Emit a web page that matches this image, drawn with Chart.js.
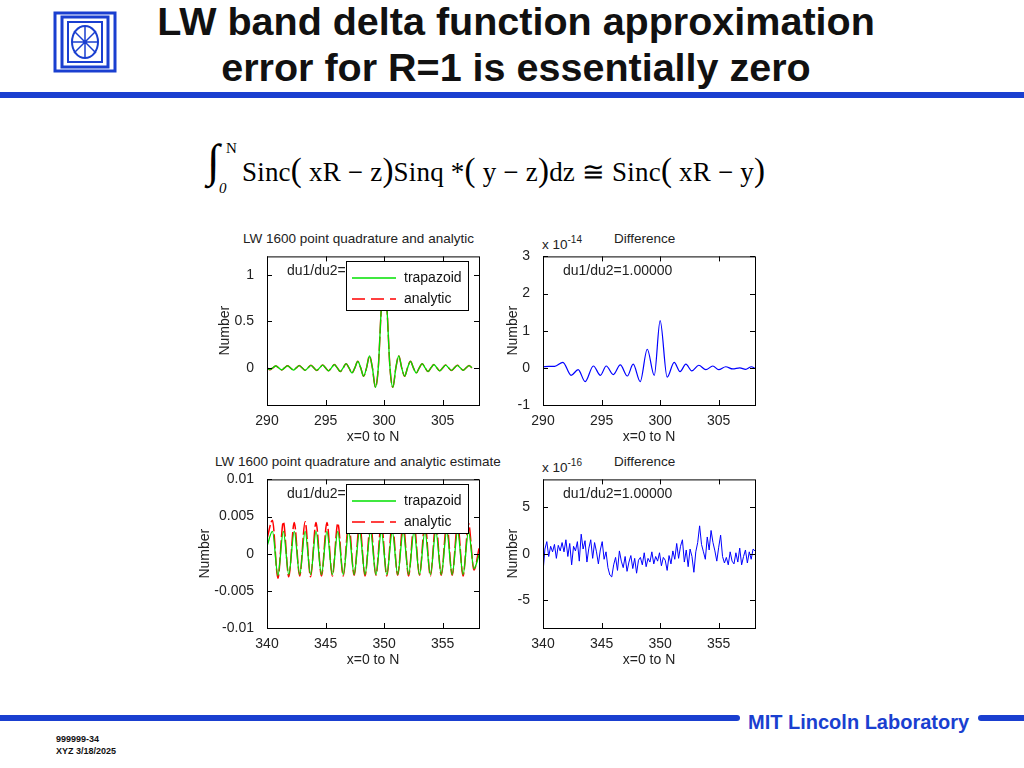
<!DOCTYPE html>
<html><head><meta charset="utf-8">
<script src="https://cdn.jsdelivr.net/npm/chart.js@4"></script>
<style>
body{margin:0;width:1024px;height:768px;background:#fff;position:relative;overflow:hidden;font-family:"Liberation Sans",Arial,sans-serif}
.a{position:absolute;white-space:nowrap}
canvas{position:absolute}
.t{font-size:13.5px;color:#222}
.leg{position:absolute;width:123px;height:50px;background:#fff;border:1px solid #000;box-sizing:border-box;font-size:14px;color:#111}
</style></head><body>
<div class="a" style="left:0;top:-2px;width:1032px;text-align:center;font-weight:bold;font-size:39.5px;line-height:46px;color:#111">LW band delta function approximation<br>error for R=1 is essentially zero</div>
<svg class="a" style="left:53px;top:11px" width="64" height="62" viewBox="0 0 64 62">
<rect x="2" y="2" width="60" height="58" fill="none" stroke="#1a3fd0" stroke-width="3"/>
<rect x="9" y="6" width="46" height="50" fill="none" stroke="#1a3fd0" stroke-width="3"/>
<rect x="15" y="11" width="34" height="40" fill="none" stroke="#1a3fd0" stroke-width="2"/>
<ellipse cx="32" cy="31" rx="13" ry="16" fill="none" stroke="#1a3fd0" stroke-width="2"/>
<path d="M21 20 L43 42 M43 20 L21 42 M32 15 L32 47 M19 31 L45 31" stroke="#1a3fd0" stroke-width="1.5"/>
</svg>
<div class="a" style="left:0;top:92px;width:1024px;height:6px;background:#1a3fd0"></div>
<div class="a" style="left:207px;top:131px;font-family:'Liberation Serif',serif;font-size:46px;line-height:60px">∫</div>
<div class="a" style="left:226px;top:140px;font-family:'Liberation Serif',serif;font-size:15px">N</div>
<div class="a" style="left:219px;top:180px;font-family:'Liberation Serif',serif;font-size:15px;font-style:italic">0</div>
<div class="a" style="left:242px;top:152px;font-family:'Liberation Serif',serif;font-size:27px;letter-spacing:0.2px">Sinc<span style="font-size:33px">(</span> xR − z<span style="font-size:33px">)</span>Sinq *<span style="font-size:33px">(</span> y − z<span style="font-size:33px">)</span>dz ≅ Sinc<span style="font-size:33px">(</span> xR − y<span style="font-size:33px">)</span></div>

<div class="a t" style="left:243px;top:231px">LW 1600 point quadrature and analytic</div>
<div class="a t" style="left:614px;top:231px">Difference</div>
<div class="a t" style="left:542px;top:234px">x 10<sup style="font-size:10px">-14</sup></div>
<div class="a t" style="left:215px;top:454px">LW 1600 point quadrature and analytic estimate</div>
<div class="a t" style="left:614px;top:454px">Difference</div>
<div class="a t" style="left:542px;top:457px">x 10<sup style="font-size:10px">-16</sup></div>

<canvas id="c1"></canvas><canvas id="c2"></canvas><canvas id="c3"></canvas><canvas id="c4"></canvas>

<div class="a t" style="left:287px;top:262px;font-size:14px">du1/du2=</div>
<div class="a t" style="left:563px;top:262px;font-size:14px">du1/du2=1.00000</div>
<div class="a t" style="left:287px;top:485px;font-size:14px">du1/du2=</div>
<div class="a t" style="left:563px;top:485px;font-size:14px">du1/du2=1.00000</div>
<div class="leg" style="left:346px;top:261px"><svg class="a" style="left:5px;top:0" width="46" height="48"><line x1="0" y1="16" x2="44" y2="16" stroke="#00e000" stroke-width="1.5"/><line x1="0" y1="37" x2="44" y2="37" stroke="#ff0000" stroke-width="1.5" stroke-dasharray="13,6"/></svg><div class="a" style="left:57px;top:7px">trapazoid</div><div class="a" style="left:57px;top:28px">analytic</div></div>
<div class="leg" style="left:346px;top:484px"><svg class="a" style="left:5px;top:0" width="46" height="48"><line x1="0" y1="16" x2="44" y2="16" stroke="#00e000" stroke-width="1.5"/><line x1="0" y1="37" x2="44" y2="37" stroke="#ff0000" stroke-width="1.5" stroke-dasharray="13,6"/></svg><div class="a" style="left:57px;top:7px">trapazoid</div><div class="a" style="left:57px;top:28px">analytic</div></div>

<div class="a" style="left:0;top:715px;width:740px;height:6px;background:#1a3fd0;border-radius:0 3px 3px 0"></div>
<div class="a" style="left:978px;top:715px;width:46px;height:6px;background:#1a3fd0;border-radius:3px 0 0 3px"></div>
<div class="a" style="left:748px;top:711px;font-weight:bold;font-size:20px;color:#1a3fd0">MIT Lincoln Laboratory</div>
<div class="a" style="left:56px;top:733px;font-weight:bold;font-size:9px;line-height:12px;color:#111">999999-34<br>XYZ 3/18/2025</div>

<script>
// ---- data ----
const topStart = 290, topStep = 0.25;
const trapTop = [0,-0.02,0,0.02,0,-0.022,0,0.022,0,-0.024,0,0.025,0,-0.026,0,0.027,0,-0.028,0,0.03,0,-0.032,0,0.035,0,-0.04,0,0.045,0,-0.055,0,0.07,0,-0.09,0,0.13,0,-0.21,0,0.62,1.0,
 0.62,0,-0.21,0,0.13,0,-0.09,0,0.07,0,-0.055,0,0.045,0,-0.04,0,0.035,0,-0.032,0,0.03,0,-0.028,0,0.027,0,-0.026,0,0.025,0];
const analTop = trapTop.slice();
const diffTopX = [290,290.5,291,291.7,292.4,293.0,293.6,294.3,294.9,295.4,296.0,296.6,297.2,297.7,298.3,298.9,299.5,300.0,300.6,301.2,301.7,302.2,302.7,303.3,303.9,304.5,305.0,305.6,306.2,306.8,307.3,307.8,308.1];
const diffTopY = [0.03,0.04,0.04,0.15,-0.2,-0.05,-0.37,0.05,-0.2,0.05,-0.18,0.08,-0.22,0.1,-0.37,0.5,-0.2,1.27,-0.25,0.15,-0.1,0.1,-0.08,0.07,-0.05,0.05,-0.05,0.03,-0.03,0.0,-0.04,0.03,-0.02];
const botStart = 340, botHalf = 0.465;
const analBot = [0.002,0.0045,-0.0033,0.0043,-0.0031,0.0042,-0.003,0.0043,-0.0031,0.0042,-0.003,0.0042,-0.003,0.0041,-0.003,0.0042,-0.0029,0.0041,-0.003,0.0041,-0.0029,0.0042,-0.003,0.0041,-0.0029,0.0041,-0.003,0.0041,-0.0029,0.0042,-0.003,0.0041,-0.0029,0.0041,-0.0029,0.0041,-0.003,0.0041,-0.0022,0.001];
const trapBot = [0.001,0.003,-0.0029,0.003,-0.0028,0.003,-0.0028,0.003,-0.0028,0.003,-0.0028,0.003,-0.0028,0.003,-0.0028,0.003,-0.0028,0.003,-0.0028,0.003,-0.0028,0.003,-0.0028,0.003,-0.0028,0.003,-0.0028,0.003,-0.0028,0.003,-0.0028,0.003,-0.0028,0.003,-0.0028,0.003,-0.0028,0.003,-0.002,0.0];
const diffBotY = [-2,0.5,1.3,-0.3,0.8,0.2,1,-0.5,0.9,0.3,1.2,
 0.2,1.5,-0.3,1.1,-1.2,0.8,0.3,1.3,-0.8,2.1,
 0.5,1.4,-0.9,0.6,1.5,-0.5,1.2,0.2,-1.1,0.4,
 1.3,-0.6,0.2,-1.5,-2.3,-2.5,-1.2,-0.4,-1.8,0.3,
 -0.8,-1.5,-0.3,-1.9,-0.9,-0.2,-1.6,-0.5,-2.1,-0.7,
 -0.4,-1.2,0.1,-1.4,-0.5,-0.9,0.2,-1.1,-0.3,-0.8,
 0.1,-1.3,-0.4,-0.7,-1.8,-0.2,-1.1,0.3,-0.6,1.1,
 -0.5,0.8,1.5,-0.9,0.4,-1.4,0.5,-0.3,-2.0,0.2,
 1.2,3.0,1.0,0.2,-0.6,1.8,0.4,2.5,1.2,0.3,
 -0.8,0.7,2.0,-0.3,-1.0,-0.4,-1.2,0.2,-0.8,-1.1,
 0.1,-0.9,0.6,-1.2,-0.3,0.4,-1.0,0.2,-0.6,0.5,0.3];
const xTicksTop = [290,295,300,305], xTicksBot = [340,345,350,355];
const yTicks1 = [0,0.5,1], yTicks2 = [-1,0,1,2,3], yTicks3 = [-0.01,-0.005,0,0.005,0.01], yTicks4 = [-5,0,5];
const yLabels3 = ['-0.01','-0.005','0','0.005','0.01'];

function pts(start, step, ys){return ys.map((y,i)=>({x:start+i*step,y}));}
function pairs(xs, ys){return xs.map((x,i)=>({x,y:ys[i]}));}

const boxTicks = {id:'boxTicks', afterDraw(c){
  const {ctx,chartArea:a}=c; ctx.save(); ctx.strokeStyle='#000'; ctx.lineWidth=1;
  ctx.strokeRect(a.left+0.5,a.top+0.5,a.right-a.left,a.bottom-a.top);
  const L=5; ctx.beginPath();
  c.scales.x.ticks.forEach(t=>{const p=Math.round(c.scales.x.getPixelForValue(t.value))+0.5;
    ctx.moveTo(p,a.bottom);ctx.lineTo(p,a.bottom-L);ctx.moveTo(p,a.top);ctx.lineTo(p,a.top+L);});
  c.scales.y.ticks.forEach(t=>{const p=Math.round(c.scales.y.getPixelForValue(t.value))+0.5;
    ctx.moveTo(a.left,p);ctx.lineTo(a.left+L,p);ctx.moveTo(a.right,p);ctx.lineTo(a.right-L,p);});
  ctx.stroke(); ctx.restore();}};

function make(id, L, T, R, B, yW, datasets, xr, xt, yr, yt, ylab){
  const cv=document.getElementById(id);
  const w=(R-L)+yW+14, h=(B-T)+57;
  cv.width=w; cv.height=h; cv.style.width=w+'px'; cv.style.height=h+'px';
  const font={family:'Liberation Sans, Arial',size:14};
  const ch=new Chart(cv,{type:'line',data:{datasets},plugins:[boxTicks],
    options:{responsive:false,animation:false,events:[],
      layout:{padding:{top:8,right:12,left:0,bottom:0}},
      plugins:{legend:{display:false},tooltip:{enabled:false}},
      elements:{point:{radius:0}},
      scales:{
        x:{type:'linear',min:xr[0],max:xr[1],grid:{display:false},border:{display:false},
          afterBuildTicks(s){s.ticks=xt.map(v=>({value:v}));},
          afterFit(s){s.height=44;},
          ticks:{color:'#222',font,padding:0,maxRotation:0},
          title:{display:true,text:'x=0 to N',color:'#222',font,padding:{top:0,bottom:3}}},
        y:{min:yr[0],max:yr[1],grid:{display:false},border:{display:false},
          afterBuildTicks(s){s.ticks=yt.map(v=>({value:v}));},
          afterFit(s){s.width=yW;},
          ticks:{color:'#222',font,padding:5,callback:(v,i)=>ylab?ylab[i]:String(v)},
          title:{display:true,text:'Number',color:'#222',font,padding:{top:0,bottom:4}}}}}});
  const b=ch.chartArea;
  cv.style.left=(L-b.left)+'px'; cv.style.top=(T-b.top)+'px';
}
make('c1',267,256,477,405,50,[
  {data:pts(topStart,topStep,trapTop),borderColor:'#00e000',borderWidth:1.3,cubicInterpolationMode:'monotone'},
  {data:pts(topStart,topStep,analTop),borderColor:'#ff0000',borderWidth:1.5,borderDash:[14,3],cubicInterpolationMode:'monotone'}],
  [290,308.1],xTicksTop,[-0.4,1.2],yTicks1);
make('c2',543,256,753,405,38,[
  {data:pairs(diffTopX,diffTopY),borderColor:'#0000ff',borderWidth:1.2,cubicInterpolationMode:'monotone'}],
  [290,308.1],xTicksTop,[-1,3],yTicks2);
make('c3',267,479,477,628,70,[
  {data:pts(botStart,botHalf,trapBot),borderColor:'#00e000',borderWidth:1.3,cubicInterpolationMode:'monotone'},
  {data:pts(botStart,botHalf,analBot),borderColor:'#ff0000',borderWidth:1.5,borderDash:[14,3],cubicInterpolationMode:'monotone'}],
  [340,358.1],xTicksBot,[-0.01,0.01],yTicks3,yLabels3);
make('c4',543,479,753,628,38,[
  {data:pts(botStart,18.1/(diffBotY.length-1),diffBotY),borderColor:'#0000ff',borderWidth:1,tension:0}],
  [340,358.1],xTicksBot,[-8,8],yTicks4);
</script>
</body></html>
